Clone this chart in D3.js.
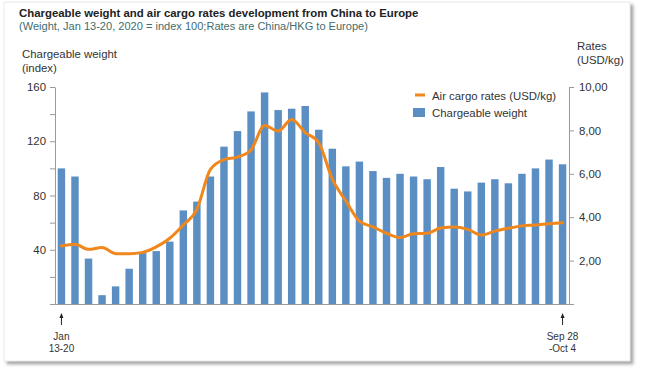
<!DOCTYPE html>
<html>
<head>
<meta charset="utf-8">
<script src="https://cdn.jsdelivr.net/npm/d3@7"></script>
<style>
  body { margin: 0; background: #fff; }
  svg { display: block; font-family: "Liberation Sans", Arial, sans-serif; }
</style>
</head>
<body>
<div id="chart"></div>
<script>
// weeks, Jan 13-20 .. Sep 28-Oct 4 (2020)
var weeks = ["Jan 13", "Jan 20", "Jan 27", "Feb 3", "Feb 10", "Feb 17", "Feb 24",
  "Mar 2", "Mar 9", "Mar 16", "Mar 23", "Mar 30", "Apr 6", "Apr 13", "Apr 20",
  "Apr 27", "May 4", "May 11", "May 18", "May 25", "Jun 1", "Jun 8", "Jun 15",
  "Jun 22", "Jun 29", "Jul 6", "Jul 13", "Jul 20", "Jul 27", "Aug 3", "Aug 10",
  "Aug 17", "Aug 24", "Aug 31", "Sep 7", "Sep 14", "Sep 21", "Sep 28"];

// chargeable weight, index (Jan 13-20 = 100)
var weight = [100, 94, 33.5, 6.5, 13, 26, 37.5, 39, 46, 69, 75.5, 94, 116, 127.5,
  142, 156, 143, 144, 146, 128.5, 114.5, 101.5, 105, 98, 93, 96, 94, 92, 101, 85,
  83, 89.5, 92, 89, 96, 100, 106.5, 103];

// air cargo rates, USD/kg
var rates = [2.67, 2.75, 2.52, 2.6, 2.32, 2.32, 2.38, 2.63, 3.03, 3.64, 4.36, 6.2,
  6.65, 6.77, 7.1, 8.23, 7.97, 8.5, 7.9, 7.43, 5.75, 4.75, 3.82, 3.55, 3.26, 3.06,
  3.24, 3.26, 3.5, 3.55, 3.44, 3.18, 3.36, 3.49, 3.6, 3.64, 3.7, 3.75];

var leftTicks = [0, 20, 40, 60, 80, 100, 120, 140, 160];
var rightTicks = [0, 2, 4, 6, 8, 10];
var startLabel = ["Jan", "13-20"];
var endLabel = ["Sep 28", "-Oct 4"];

var W = 646, H = 376;
var BLUE = "#5b8fc4", ORANGE = "#f0871c", AXIS = "#9a9a9a", TXT = "#333";
var FS = 11.4;

var svg = d3.select("#chart").append("svg")
  .attr("width", W).attr("height", H);

// card with shadow
var defs = svg.append("defs");
var f = defs.append("filter").attr("id", "shadow")
  .attr("x", "-5%").attr("y", "-5%").attr("width", "115%").attr("height", "115%");
f.append("feDropShadow").attr("dx", 3).attr("dy", 3).attr("stdDeviation", 1.8)
  .attr("flood-color", "#777").attr("flood-opacity", 0.65);

svg.append("rect")
  .attr("x", 4).attr("y", 2).attr("width", 626).attr("height", 359)
  .attr("fill", "#fff").attr("stroke", "#e4e4e4").attr("stroke-width", 0.8)
  .attr("filter", "url(#shadow)");

// titles
svg.append("text").attr("x", 19).attr("y", 17)
  .attr("font-size", 11.4).attr("font-weight", "bold").attr("fill", "#222")
  .text("Chargeable weight and air cargo rates development from China to Europe");
svg.append("text").attr("x", 19).attr("y", 29.5)
  .attr("font-size", 11.05).attr("fill", "#3f6d70")
  .text("(Weight, Jan 13-20, 2020 = index 100;Rates are China/HKG to Europe)");

// scales
var x = d3.scaleBand().domain(weeks).range([55, 569])
  .paddingInner(0.45).paddingOuter(0.2);
var yL = d3.scaleLinear().domain([0, 160]).range([304, 87]);
var yR = d3.scaleLinear().domain([0, 10]).range([304, 87]);

// bars
svg.append("g").selectAll("rect").data(weight).enter().append("rect")
  .attr("x", function(d, i) { return x(weeks[i]); })
  .attr("y", function(d) { return yL(d); })
  .attr("width", x.bandwidth())
  .attr("height", function(d) { return yL(0) - yL(d); })
  .attr("fill", BLUE);

// rate line
var line = d3.line()
  .x(function(d, i) { return x(weeks[i]) + x.bandwidth() / 2; })
  .y(function(d) { return yR(d); })
  .curve(d3.curveMonotoneX);
svg.append("path").datum(rates)
  .attr("d", line)
  .attr("fill", "none").attr("stroke", ORANGE).attr("stroke-width", 3)
  .attr("stroke-linejoin", "round").attr("stroke-linecap", "round");

// left axis
var gL = svg.append("g").attr("transform", "translate(55,0)")
  .call(d3.axisLeft(yL).tickValues(leftTicks).tickSize(5).tickSizeOuter(0)
    .tickFormat(function(d) { return d > 0 && d % 40 === 0 ? d : ""; }));
gL.selectAll("text").attr("font-size", FS).attr("fill", TXT)
  .attr("font-family", "Liberation Sans, Arial, sans-serif").attr("x", -9);

// right axis
var gR = svg.append("g").attr("transform", "translate(569,0)")
  .call(d3.axisRight(yR).tickValues(rightTicks).tickSize(5).tickSizeOuter(0)
    .tickFormat(function(d) { return d > 0 ? d3.format(".2f")(d).replace(".", ",") : ""; }));
gR.selectAll("text").attr("font-size", FS).attr("fill", TXT)
  .attr("font-family", "Liberation Sans, Arial, sans-serif").attr("x", 10);

[gL, gR].forEach(function(g) {
  g.select(".domain").attr("stroke", AXIS);
  g.selectAll(".tick line").attr("stroke", AXIS);
});

// baseline
svg.append("line").attr("x1", 52).attr("x2", 571)
  .attr("y1", 304.5).attr("y2", 304.5)
  .attr("stroke", AXIS).attr("stroke-width", 1.2);

// axis titles
var at = svg.append("g").attr("font-size", FS).attr("fill", TXT);
at.append("text").attr("x", 22).attr("y", 58).text("Chargeable weight");
at.append("text").attr("x", 22).attr("y", 72).text("(index)");
at.append("text").attr("x", 577).attr("y", 50).text("Rates");
at.append("text").attr("x", 577).attr("y", 64).text("(USD/kg)");

// start / end markers
function marker(week, lines) {
  var cx = x(week) + x.bandwidth() / 2;
  var g = svg.append("g");
  g.append("line").attr("x1", cx).attr("x2", cx).attr("y1", 316).attr("y2", 325)
    .attr("stroke", "#222").attr("stroke-width", 1);
  g.append("path")
    .attr("d", "M" + (cx - 2) + ",318 L" + cx + ",313 L" + (cx + 2) + ",318 Z")
    .attr("fill", "#222");
  g.selectAll("text").data(lines).enter().append("text")
    .attr("x", cx).attr("y", function(d, i) { return 340 + i * 12; })
    .attr("text-anchor", "middle").attr("font-size", 10).attr("fill", TXT)
    .text(function(d) { return d; });
}
marker(weeks[0], startLabel);
marker(weeks[weeks.length - 1], endLabel);

// legend
var lg = svg.append("g").attr("font-size", FS).attr("fill", TXT);
lg.append("line").attr("x1", 415).attr("x2", 425).attr("y1", 95).attr("y2", 95)
  .attr("stroke", ORANGE).attr("stroke-width", 3);
lg.append("text").attr("x", 432).attr("y", 99.5).text("Air cargo rates (USD/kg)");
lg.append("rect").attr("x", 413).attr("y", 108).attr("width", 12).attr("height", 9)
  .attr("fill", BLUE);
lg.append("text").attr("x", 432).attr("y", 117).text("Chargeable weight");
</script>
</body>
</html>
